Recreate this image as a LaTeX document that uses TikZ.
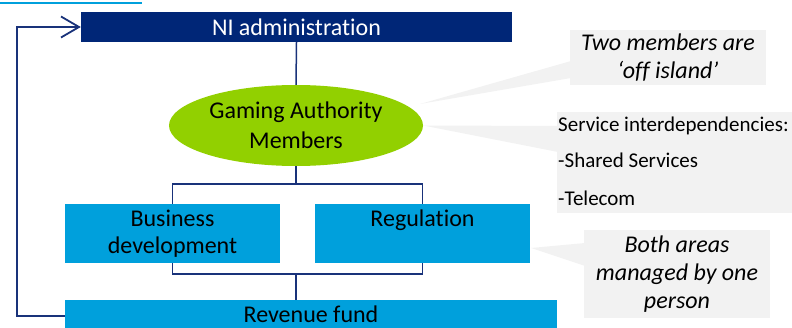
\documentclass[tikz,border=0pt]{standalone}
\usepackage{fontspec}
\setmainfont[Ligatures=NoCommon]{Carlito}
\usetikzlibrary{shapes.geometric,arrows.meta}
\definecolor{navy}{RGB}{0,38,119}
\definecolor{lnavy}{RGB}{25,50,122}
\definecolor{cyanbox}{RGB}{0,160,220}
\definecolor{ggreen}{RGB}{146,208,0}
\definecolor{callgray}{RGB}{242,242,242}
\begin{document}
\begin{tikzpicture}[x=1pt,y=-1pt,
  conn/.style={draw=lnavy,line width=1.5pt},
  bluebox/.style={rectangle,fill=cyanbox,inner sep=0pt,minimum height=59pt,align=center,font=\fontsize{24}{27}\selectfont},
  callbox/.style={rectangle,fill=callgray,inner sep=0pt,align=center,font=\fontsize{24}{28}\selectfont\itshape},
  wedge/.style={fill=callgray},
  plaintext/.style={inner sep=0pt,anchor=base west,font=\fontsize{21}{25}\selectfont}]
\useasboundingbox (0,0) rectangle (792,328);
% top-left underline fragment
\draw[draw=cyanbox,line width=2pt] (0,3) coordinate (ul1) -- (142,3) coordinate (ul2);
% main nodes
\node[rectangle,fill=navy,text=white,inner sep=0pt,minimum width=431pt,minimum height=30pt,font=\fontsize{24}{28}\selectfont] (ni) at (296.5,27) {NI administration};
\node[ellipse,fill=ggreen,inner sep=0pt,minimum width=254pt,minimum height=81pt,align=center,font=\fontsize{24}{30}\selectfont] (ga) at (296,125.5) {Gaming Authority\\Members};
\node[bluebox,minimum width=215pt] (bd) at (172.5,233.5) {Business\\development};
\node[bluebox,minimum width=215pt] (reg) at (422.5,233.5) {Regulation\\\phantom{development}};
\node[rectangle,fill=cyanbox,inner sep=0pt,minimum width=492pt,minimum height=28pt,font=\fontsize{24}{28}\selectfont] (rev) at (311,314) {Revenue fund};
% connectors
\draw[conn] (ni.south) -- (ga.north);
\draw[conn] (ga.south) -- ++(0,18) coordinate (top);
\draw[conn] (bd.north) |- (top) -| (reg.north);
\coordinate (bot) at (296,274);
\draw[conn] (bd.south) |- (bot) -| (reg.south);
\draw[conn] (bot) -- (bot |- rev.north);
\coordinate (fb) at (17,316);
\draw[conn,-{Straight Barb[length=18pt,width=21pt,line width=1.8pt]}] (rev.west |- fb) -- (fb) |- (ni.west);
% callouts
\coordinate (tip1) at (420,104);
\coordinate (tip2) at (ga.east);
\coordinate (tip3) at (531,248);
\fill[wedge] (tip1) -- (571,61) -- (571,78) -- cycle;
\fill[wedge] (tip2) -- (558,126) -- (558,152) -- cycle;
\fill[wedge] (tip3) -- (585,243) -- (585,266) -- cycle;
\node[callbox,minimum width=196pt,minimum height=55pt] (c1) at (668,57.5) {Two members are\\‘off island’};
\node[rectangle,fill=callgray,inner sep=0pt,minimum width=240pt,minimum height=101pt] (c2) at (677,162.5) {};
\node[callbox,minimum width=186pt,minimum height=88pt] (c3) at (677,274) {Both areas\\managed by one\\person};
\node[plaintext] (s1) at (558,132) {Service interdependencies:};
\node[plaintext] (s2) at (558,168) {-Shared Services};
\node[plaintext] (s3) at (558,206) {-Telecom};
\end{tikzpicture}
\end{document}
